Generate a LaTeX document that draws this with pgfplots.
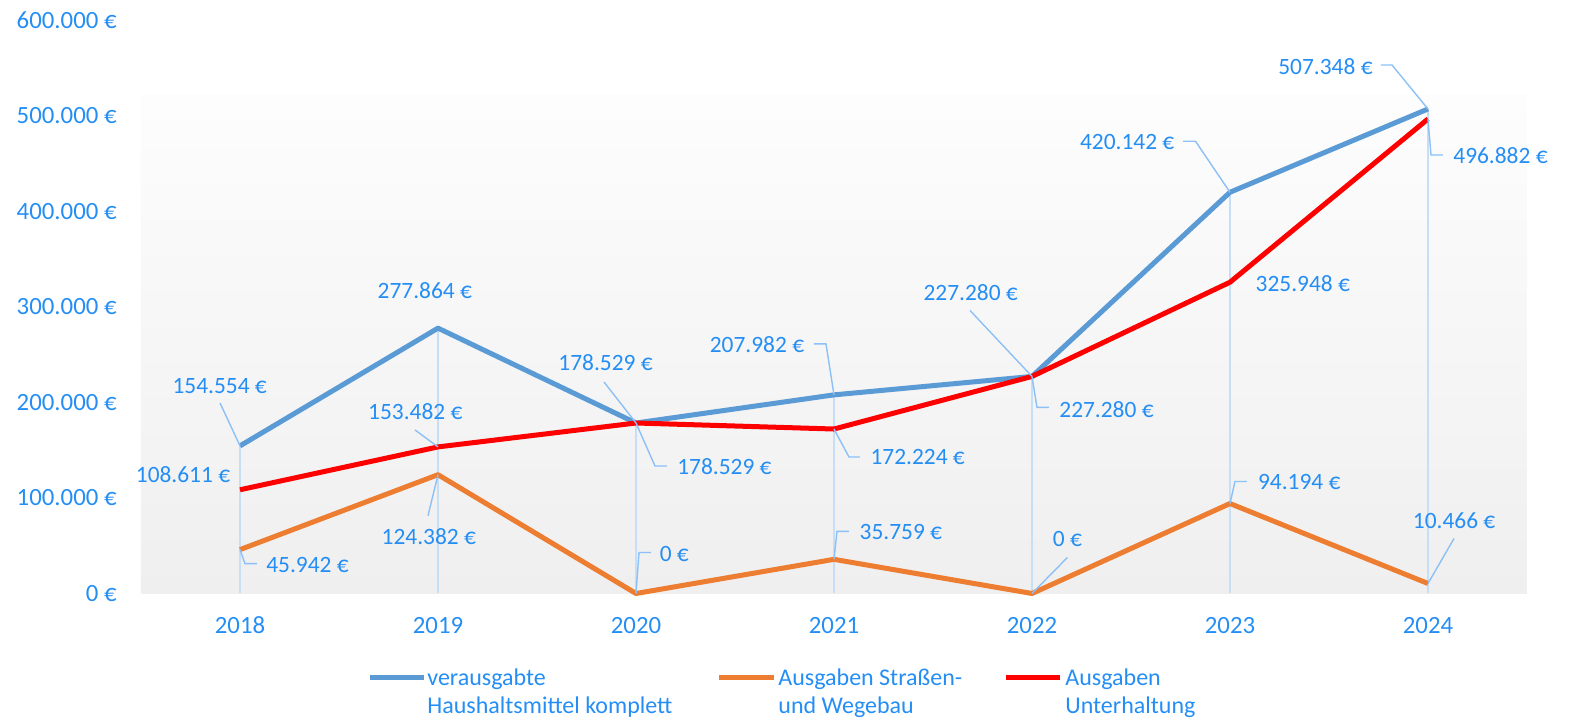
\documentclass[border=0pt]{standalone}
\usepackage{fontspec}
\setmainfont{Carlito}
\usepackage{pgfplots}
\pgfplotsset{compat=1.18}
\definecolor{tickblue}{RGB}{36,142,245}
\definecolor{sblue}{RGB}{91,155,213}
\definecolor{sorange}{RGB}{237,125,49}
\definecolor{sred}{RGB}{255,0,0}
\definecolor{leadcol}{RGB}{140,192,247}
\definecolor{dropcol}{RGB}{198,222,246}
\definecolor{bgtop}{RGB}{253,253,253}
\definecolor{bgbot}{RGB}{239,239,239}
\tikzset{
  dlab/.style={font=\fontsize{11.7}{13}\selectfont, text=tickblue, inner sep=0pt},
  leader/.style={draw=leadcol, line width=0.7pt},
}
\newcommand\dl[5]{\node[dlab, xshift=#3pt, yshift=#4pt] at (axis cs:#1,#2) {#5};}
\newcommand\ld[3]{\draw[leader] (axis cs:#1,#2) #3;}
\begin{document}
\begin{tikzpicture}
\useasboundingbox (-70.5pt,-63.75pt) rectangle (714.5pt,296.75pt);
\begin{axis}[
  at={(0pt,0pt)}, anchor=south west,
  scale only axis, width=693pt, height=286.5pt,
  xmin=2017.5, xmax=2024.5, ymin=0, ymax=600000,
  axis lines*=left,
  x axis line style={draw=dropcol, line width=1pt, -},
  y axis line style={draw=none},
  xtick={2018,2019,2020,2021,2022,2023,2024},
  xticklabels={2018,2019,2020,2021,2022,2023,2024},
  ytick={0,100000,200000,300000,400000,500000,600000},
  yticklabels={0 €,100.000 €,200.000 €,300.000 €,400.000 €,500.000 €,600.000 €},
  scaled y ticks=false,
  tick style={draw=none},
  major tick length=0pt,
  /pgf/number format/assume math mode=true,
  ticklabel style={font=\fontsize{12.4}{14}\selectfont, text=tickblue, inner sep=0pt},
  yticklabel style={anchor=east},
  xticklabel style={anchor=center},
  yticklabel shift=12pt,
  xticklabel shift=16pt,
  clip=false,
]
\fill[top color=bgtop, bottom color=bgbot] (axis cs:2017.5,0) rectangle (axis cs:2024.5,522000);
% drop lines
\addplot[ycomb, draw=dropcol, line width=0.8pt, forget plot, mark=none] coordinates {
(2018,154554) (2019,277864) (2020,178529) (2021,207982) (2022,227280) (2023,420142) (2024,507348)};
% series
\addplot[sblue, line width=2.5pt, line join=round, mark=none] coordinates {
(2018,154554) (2019,277864) (2020,178529) (2021,207982) (2022,227280) (2023,420142) (2024,507348)};
\addplot[sorange, line width=2.5pt, line join=round, mark=none] coordinates {
(2018,45942) (2019,124382) (2020,0) (2021,35759) (2022,0) (2023,94194) (2024,10466)};
\addplot[sred, line width=2.5pt, line join=round, mark=none] coordinates {
(2018,108611) (2019,153482) (2020,178529) (2021,172224) (2022,227280) (2023,325948) (2024,496882)};
% leaders
\ld{2018}{154554}{-- ++(-10pt,21.5pt)}
\ld{2020}{178529}{-- ++(-16pt,20.5pt)}
\ld{2021}{207982}{-- ++(-4pt,25.5pt) -- ++(-6pt,0pt)}
\ld{2022}{227280}{-- ++(-31pt,33pt)}
\ld{2023}{420142}{-- ++(-17.25pt,25.5pt) -- ++(-6.15pt,0pt)}
\ld{2024}{507348}{-- ++(-18pt,22pt) -- ++(-5.5pt,0pt)}
\ld{2019}{153482}{-- ++(-11.5pt,8.5pt)}
\ld{2020}{178529}{-- ++(9.5pt,-21.5pt) -- ++(6pt,0pt)}
\ld{2021}{172224}{-- ++(7.5pt,-14pt) -- ++(5.5pt,0pt)}
\ld{2022}{227280}{-- ++(2.5pt,-15.5pt) -- ++(6pt,0pt)}
\ld{2024}{496882}{-- ++(1.5pt,-18pt) -- ++(6pt,0pt)}
\ld{2018}{45942}{-- ++(2.5pt,-7pt) -- ++(6pt,0pt)}
\ld{2019}{124382}{-- ++(-5pt,-20.5pt)}
\ld{2020}{0}{-- ++(1.5pt,20.5pt) -- ++(6pt,0pt)}
\ld{2021}{35759}{-- ++(1.5pt,14pt) -- ++(6pt,0pt)}
\ld{2022}{0}{-- ++(17.7pt,18pt)}
\ld{2023}{94194}{-- ++(2.5pt,11pt) -- ++(6pt,0pt)}
\ld{2024}{10466}{-- ++(13pt,22.5pt)}
% labels blue
\dl{2018}{154554}{-10.15}{29.95}{154.554 €}
\dl{2019}{277864}{-6.6}{19}{277.864 €}
\dl{2020}{178529}{-15.2}{30}{178.529 €}
\dl{2021}{207982}{-38.5}{25}{207.982 €}
\dl{2022}{227280}{-30.65}{41.85}{227.280 €}
\dl{2023}{420142}{-51.4}{25.3}{420.142 €}
\dl{2024}{507348}{-51.25}{21.15}{507.348 €}
% labels red
\dl{2018}{108611}{-28.5}{7.4}{108.611 €}
\dl{2019}{153482}{-11.35}{17.65}{153.482 €}
\dl{2020}{178529}{44.2}{-21.85}{178.529 €}
\dl{2021}{172224}{41.85}{-14.15}{172.224 €}
\dl{2022}{227280}{37.25}{-16.8}{227.280 €}
\dl{2023}{325948}{36.4}{-0.55}{325.948 €}
\dl{2024}{496882}{36.25}{-18.5}{496.882 €}
% labels orange
\dl{2018}{45942}{33.75}{-7.7}{45.942 €}
\dl{2019}{124382}{-4.6}{-31}{124.382 €}
\dl{2020}{0}{19.15}{19.75}{0 €}
\dl{2021}{35759}{33.45}{13.7}{35.759 €}
\dl{2022}{0}{17.7}{27.1}{0 €}
\dl{2023}{94194}{34.65}{10.6}{94.194 €}
\dl{2024}{10466}{13.05}{31.4}{10.466 €}
\end{axis}
% legend
\begin{scope}[every node/.style={font=\fontsize{12}{14}\selectfont, text=tickblue, inner sep=0pt, anchor=base west}]
\draw[sblue, line width=2.5pt] (114.5pt,-42.25pt) -- (141.5pt,-42.25pt);
\node at (143pt,-46.25pt) {verausgabte};
\node at (143pt,-60.25pt) {Haushaltsmittel komplett};
\draw[sorange, line width=2.5pt] (289pt,-42.25pt) -- (316.5pt,-42.25pt);
\node at (318.5pt,-46.25pt) {Ausgaben Straßen-};
\node at (318.5pt,-60.25pt) {und Wegebau};
\draw[sred, line width=2.5pt] (432.5pt,-42.25pt) -- (459.5pt,-42.25pt);
\node at (462pt,-46.25pt) {Ausgaben};
\node at (462pt,-60.25pt) {Unterhaltung};
\end{scope}
\end{tikzpicture}
\end{document}
